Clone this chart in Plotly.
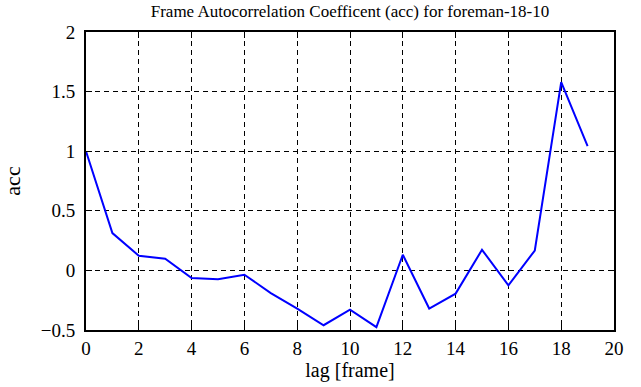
import plotly.graph_objects as go

lag = list(range(20))
acc = [1.0, 0.313, 0.123, 0.098, -0.064, -0.075, -0.036, -0.19, -0.32, -0.46,
       -0.33, -0.476, 0.131, -0.32, -0.195, 0.173, -0.125, 0.167, 1.58, 1.043]

title_text = "Frame Autocorrelation Coefficent (acc) for foreman-18-10"
x_label = "lag [frame]"
y_label = "acc"

font_family = "Liberation Serif"

W, H = 641, 387

fig = go.Figure()
fig.add_trace(go.Scatter(x=lag, y=acc, mode="lines",
                         line=dict(color="#0000ff", width=2)))

axis_common = dict(
    showline=True, linecolor="black", linewidth=2, mirror="ticks",
    ticks="inside", ticklen=6, tickwidth=1, tickcolor="black",
    showgrid=True, gridcolor="black", gridwidth=1, griddash="5px,4px",
    zeroline=False, automargin=False,
    tickfont=dict(family=font_family, size=19, color="black"),
)

fig.update_layout(
    width=W, height=H,
    margin=dict(l=86, r=27, t=32, b=57),
    paper_bgcolor="white", plot_bgcolor="white",
    showlegend=False,
    font=dict(family=font_family, color="black"),
    title=dict(text=title_text, x=0.5, xref="paper", y=1 - 11 / H, yref="container",
               xanchor="center", yanchor="middle", automargin=False,
               font=dict(family=font_family, size=17, color="black")),
    xaxis=dict(range=[0, 20], dtick=2, tick0=0,
               title=dict(text=x_label, standoff=5,
                          font=dict(family=font_family, size=20, color="black")),
               **axis_common),
    yaxis=dict(range=[-0.5, 2], dtick=0.5, tick0=0, ticklabelstandoff=5,
               title=dict(text=y_label, standoff=32,
                          font=dict(family=font_family, size=22, color="black")),
               **axis_common),
)

fig.write_html("out.html",
               config={"displayModeBar": False, "staticPlot": True},
               post_script="document.body.style.margin='0';document.body.style.padding='0';")
